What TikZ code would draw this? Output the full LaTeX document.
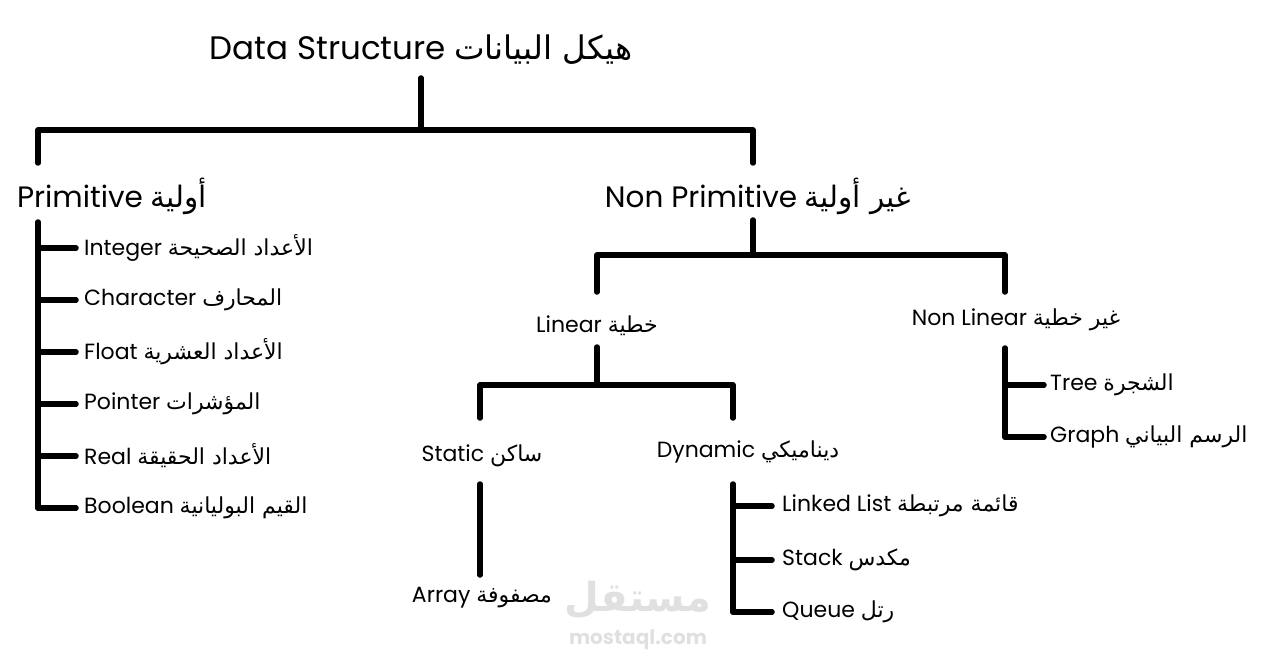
\documentclass[tikz,border=0pt]{standalone}
\usepackage{fontspec}
\setmainfont{Poppins}
\newfontfamily\arfont[Script=Arabic]{DejaVu Sans}
\TeXXeTstate=1
\newcommand{\ar}[1]{{\arfont\beginR #1\endR}}
\begin{document}
\begin{tikzpicture}[x=1pt,y=-1pt,
  ln/.style={line width=5.5pt,line cap=round,line join=round},
  big/.style={font=\fontsize{32.5}{36}\selectfont},
  mid/.style={font=\fontsize{29.5}{32}\selectfont},
  sm/.style={font=\fontsize{22}{26}\selectfont},
  lf/.style={sm,anchor=west,inner sep=2pt}]
\useasboundingbox (0,0) rectangle (1276,668);
\node[big] (root) at (421,50) {Data Structure \ar{هيكل البيانات}};
\node[mid] (prim) at (112,196) {Primitive \ar{أولية}};
\node[mid] (nprim) at (758,196) {Non Primitive \ar{غير أولية}};
\coordinate (r1) at (421,78); \coordinate (r2) at (421,130);
\draw[ln] (r1)--(r2);
\draw[ln] (38,163)--(38,130)--(753,130)--(753,163);
% primitive list
\draw[ln] (38,222)--(38,508);
\foreach \y/\t in {248/{Integer \ar{الأعداد الصحيحة}},300/{Character \ar{المحارف}},352/{Float \ar{الأعداد العشرية}},404/{Pointer \ar{المؤشرات}},456/{Real \ar{الأعداد الحقيقة}},508/{Boolean \ar{القيم البوليانية}}}{
  \draw[ln] (38,\y)--(76,\y);
  \node[lf] at (82,\y) {\t};
}
% non primitive
\draw[ln] (753,220)--(753,255);
\draw[ln] (597,292)--(597,255)--(1005,255)--(1005,292);
\node[sm] (lin) at (597,326) {Linear \ar{خطية}};
\node[sm] (nlin) at (1016,320) {Non Linear \ar{غير خطية}};
\draw[ln] (597,347)--(597,383);
\draw[ln] (480,418)--(480,385)--(733,385)--(733,418);
\node[sm] (st) at (482,456) {Static \ar{ساكن}};
\node[sm] (dy) at (748,452) {Dynamic \ar{ديناميكي}};
\draw[ln] (480,484)--(480,575);
\node[sm] (arr) at (482,598) {Array \ar{مصفوفة}};
\draw[ln] (733,484)--(733,612);
\foreach \y/\t in {506/{Linked List \ar{قائمة مرتبطة}},560/{Stack \ar{مكدس}},612/{Queue \ar{رتل}}}{
  \draw[ln] (733,\y)--(772,\y);
  \node[lf] at (780,\y) {\t};
}
\draw[ln] (1005,348)--(1005,437);
\foreach \y/\t in {385/{Tree \ar{الشجرة}},437/{Graph \ar{الرسم البياني}}}{
  \draw[ln] (1005,\y)--(1044,\y);
  \node[lf] at (1048,\y) {\t};
}
\node[font=\fontsize{40}{40}\selectfont\bfseries,text=black!12] at (638,600) {\ar{مستقل}};
\node[font=\fontsize{20}{20}\selectfont\bfseries,text=black!12] at (638,640) {mostaql.com};
\end{tikzpicture}
\end{document}
